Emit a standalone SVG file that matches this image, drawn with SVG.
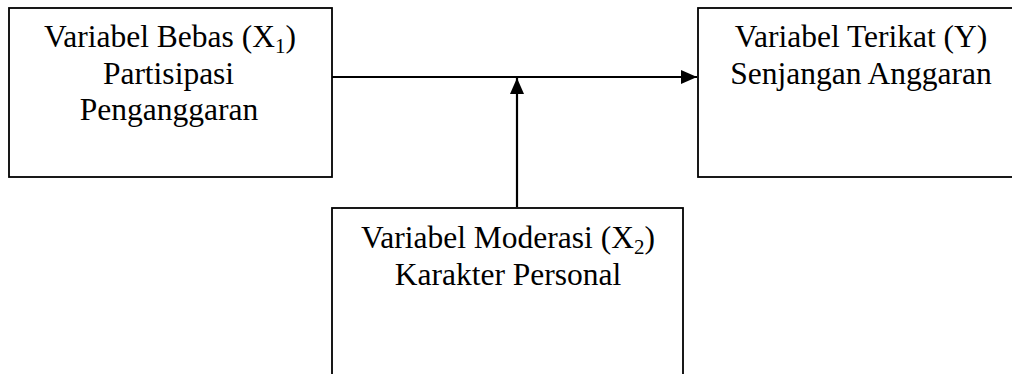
<svg xmlns="http://www.w3.org/2000/svg" width="1012" height="374" viewBox="0 0 1012 374">
  <style>
    .box { fill: #fff; stroke: #000; stroke-width: 1.8; }
    .link { fill: none; stroke: #000; stroke-width: 2.2; }
    .label { font-family: "Liberation Serif", "Times New Roman", serif; font-size: 31.5px; fill: #000; text-anchor: middle; }
    .sub { font-size: 21px; }
  </style>
  <defs>
    <marker id="arrow" markerUnits="userSpaceOnUse" markerWidth="16" markerHeight="14" refX="16" refY="7" orient="auto">
      <path d="M0,0 L16,7 L0,14 Z" fill="#000"/>
    </marker>
  </defs>

  <!-- independent variable -->
  <g id="node-x1">
    <rect class="box" x="9" y="8" width="323" height="169"/>
    <text class="label" x="170" y="47">Variabel Bebas (X<tspan class="sub" dy="6">1</tspan><tspan dy="-6">)</tspan></text>
    <text class="label" x="168.5" y="83.5">Partisipasi</text>
    <text class="label" x="169" y="120">Penganggaran</text>
  </g>

  <!-- dependent variable -->
  <g id="node-y">
    <rect class="box" x="698" y="8" width="330" height="169"/>
    <text class="label" x="861" y="47">Variabel Terikat (Y)</text>
    <text class="label" x="861" y="84">Senjangan Anggaran</text>
  </g>

  <!-- moderating variable -->
  <g id="node-x2">
    <rect class="box" x="332" y="208" width="351" height="200"/>
    <text class="label" x="508" y="248">Variabel Moderasi (X<tspan class="sub" dy="6">2</tspan><tspan dy="-6">)</tspan></text>
    <text class="label" x="508" y="285">Karakter Personal</text>
  </g>

  <!-- connectors -->
  <g id="connectors">
    <line class="link" x1="332" y1="77" x2="697" y2="77" marker-end="url(#arrow)"/>
    <line class="link" x1="517" y1="207" x2="517" y2="78" marker-end="url(#arrow)"/>
  </g>
</svg>
